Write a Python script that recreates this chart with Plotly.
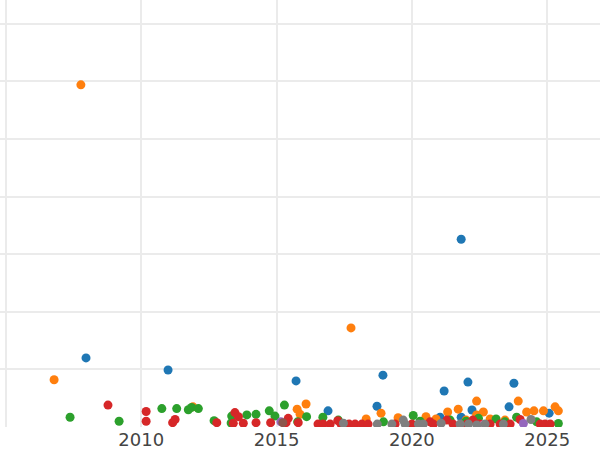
import pandas as pd
import plotly.graph_objects as go

# decimal-year positions and values per series
blue_x = [2007.96, 2010.99, 2021.82, 2015.72, 2018.93, 2016.90, 2018.71, 2021.19, 2022.07,
          2023.77, 2023.59, 2022.22, 2021.82, 2025.07, 2021.04]
blue_y = [12.0, 9.9, 32.6, 8.0, 9.0, 2.8, 3.6, 6.25, 7.8, 7.6, 3.5, 2.95, 1.7, 2.4, 1.7]

orange_x = [2007.77, 2006.78, 2017.75, 2015.76, 2016.09, 2015.87, 2018.31, 2018.86, 2019.49,
            2020.52, 2021.32, 2021.71, 2022.39, 2022.39, 2022.64, 2023.93, 2024.24, 2024.51,
            2024.86, 2025.29, 2025.41, 2011.91, 2020.89, 2022.00, 2023.44, 2022.89]
orange_y = [59.4, 8.2, 17.2, 3.1, 4.0, 2.2, 1.4, 2.4, 1.6, 1.8, 2.6, 3.1, 4.5, 2.1, 2.6, 4.5,
            2.6, 2.8, 2.8, 3.5, 2.8, 3.5, 1.4, 1.2, 1.2, 1.4]

green_x = [2007.37, 2009.18, 2010.76, 2011.31, 2011.74, 2011.86, 2012.11, 2012.69, 2013.34,
           2013.32, 2013.90, 2014.24, 2014.73, 2014.94, 2015.29, 2015.78, 2016.11, 2016.71,
           2017.28, 2018.95, 2020.05, 2022.46, 2023.11, 2023.87, 2024.61, 2025.41, 2020.30,
           2021.41, 2022.00, 2023.44]
green_y = [1.7, 1.0, 3.2, 3.2, 3.0, 3.4, 3.2, 1.1, 1.9, 0.7, 2.1, 2.2, 2.8, 1.9, 3.8, 0.9,
           1.8, 1.7, 1.2, 0.9, 2.0, 1.5, 1.4, 1.7, 0.9, 0.6, 1.0, 1.2, 1.0, 0.9]

red_x = [2008.77, 2010.18, 2010.18, 2011.16, 2011.25, 2012.79, 2013.46, 2013.59, 2013.40,
         2013.77, 2014.24, 2014.78, 2015.43, 2015.35, 2015.80, 2016.53, 2016.72, 2016.98,
         2017.26, 2017.38, 2017.68, 2017.90, 2018.15, 2018.38, 2020.67, 2020.79, 2021.29,
         2021.52, 2022.03, 2022.25, 2022.44, 2022.52, 2022.89, 2023.26, 2023.63, 2024.00,
         2024.74, 2024.92, 2025.11, 2019.38, 2020.00]
red_y = [3.8, 2.7, 1.0, 0.75, 1.3, 0.75, 2.5, 1.8, 0.65, 0.65, 0.75, 0.75, 1.5, 0.75, 0.75,
         0.5, 0.5, 0.5, 1.1, 0.5, 0.5, 0.5, 0.5, 0.5, 0.9, 0.5, 1.2, 0.5, 0.5, 1.2, 0.5, 0.5,
         0.5, 0.5, 0.5, 1.3, 0.5, 0.5, 0.5, 0.5, 0.5]

purple_x = [2015.16, 2024.12]
purple_y = [0.9, 0.6]

brown_x = [2015.23]
brown_y = [0.75]

pink_x = [2022.67]
pink_y = [0.45]

gray_x = [2017.47, 2018.72, 2019.26, 2019.68, 2019.75, 2020.24, 2020.42, 2021.08, 2021.78,
          2022.09, 2022.40, 2022.70, 2023.38, 2024.40]
gray_y = [0.65, 0.5, 0.5, 1.2, 0.5, 0.5, 0.5, 0.65, 0.5, 0.5, 0.35, 0.5, 0.5, 1.3]

x_ticks = ["2010", "2015", "2020", "2025"]


def to_date(yrs):
    out = []
    for y in yrs:
        yr = int(y)
        start = pd.Timestamp(year=yr, month=1, day=1)
        end = pd.Timestamp(year=yr + 1, month=1, day=1)
        out.append(start + (end - start) * (y - yr))
    return out


series = [
    (blue_x, blue_y, "#1f77b4"),
    (orange_x, orange_y, "#ff7f0e"),
    (green_x, green_y, "#2ca02c"),
    (red_x, red_y, "#d62728"),
    (purple_x, purple_y, "#9467bd"),
    (brown_x, brown_y, "#8c564b"),
    (pink_x, pink_y, "#e377c2"),
    (gray_x, gray_y, "#7f7f7f"),
]

fig = go.Figure()
for xs, ys, col in series:
    fig.add_trace(go.Scatter(x=to_date(xs), y=ys, mode="markers",
                             marker=dict(color=col, size=9, line=dict(width=0)),
                             showlegend=False))

fig.update_layout(
    width=600, height=450,
    margin=dict(l=0, r=0, t=0, b=23),
    paper_bgcolor="white", plot_bgcolor="white",
    font=dict(family="DejaVu Sans", color="#444444"),
    showlegend=False,
)
fig.update_xaxes(
    type="date",
    range=[to_date([2004.78])[0], to_date([2026.95])[0]],
    tickmode="array",
    tickvals=to_date([2005.0, 2010.0, 2015.0, 2020.0, 2025.0]),
    ticktext=[""] + x_ticks,
    showgrid=True, gridcolor="#ebebeb", gridwidth=1.5,
    zeroline=False, showline=False, ticks="",
    tickfont=dict(size=18, color="#444444"),
    automargin=False,
)
fig.update_yaxes(
    range=[0, 74.13],
    tickmode="linear", tick0=0, dtick=10,
    showgrid=True, gridcolor="#ebebeb", gridwidth=1.5,
    zeroline=False, showticklabels=False, ticks="",
    automargin=False,
)

fig.write_html("out.html",
               config={"displayModeBar": False},
               post_script="document.body.style.margin='0';document.body.style.overflow='hidden';")
